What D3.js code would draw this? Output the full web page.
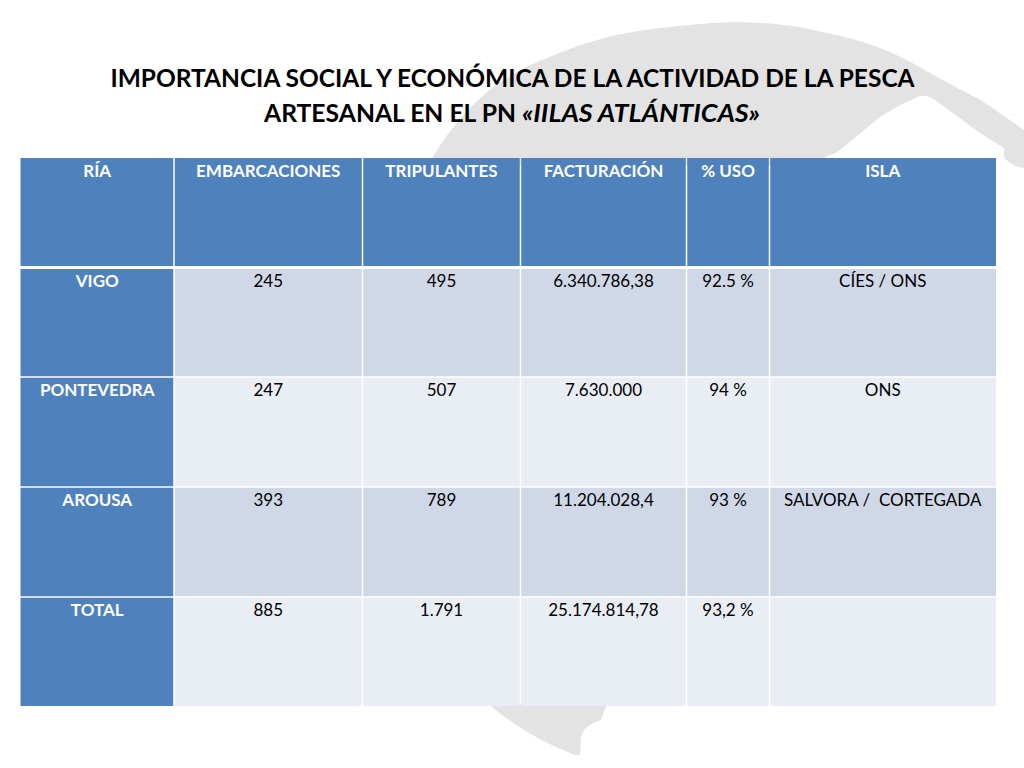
<!DOCTYPE html>
<html>
<head>
<meta charset="utf-8">
<title>Pesca artesanal</title>
<script src="https://cdn.jsdelivr.net/npm/d3@7"></script>
<style>
  html, body { margin: 0; padding: 0; background: #fff; }
  svg { display: block; }
  text { font-family: Lato, "Open Sans", sans-serif; }
</style>
</head>
<body>
<div id="chart"></div>
<script>
// table content
const columns = ['RÍA', 'EMBARCACIONES', 'TRIPULANTES', 'FACTURACIÓN', '% USO', 'ISLA'];
const rias = ['VIGO', 'PONTEVEDRA', 'AROUSA', 'TOTAL'];
const embarcaciones = ['245', '247', '393', '885'];
const tripulantes = ['495', '507', '789', '1.791'];
const facturacion = ['6.340.786,38', '7.630.000', '11.204.028,4', '25.174.814,78'];
const usos = ['92.5 %', '94 %', '93 %', '93,2 %'];
const islas = ['CÍES / ONS', 'ONS', 'SALVORA /  CORTEGADA', ''];

const width = 1024;
const height = 768;

// column and row edges are uneven, so both scales are piecewise over the edge index
const columnEdges = [20.5, 174, 362.5, 520.5, 686.5, 769.5, 996];
const rowEdges = [158, 267.5, 377, 487, 597, 706];
const x = d3.scaleLinear().domain(d3.range(columnEdges.length)).range(columnEdges);
const y = d3.scaleLinear().domain(d3.range(rowEdges.length)).range(rowEdges);

const svg = d3.select('#chart')
  .append('svg')
  .attr('width', width)
  .attr('height', height);

// grey swoosh behind the table
svg.append('path')
  .attr('fill', '#e3e3e3')
  .attr('d', 'M428,165 C450,127 475,100 500,82 C520,69 545,58 567,50 C590,41 610,36 633,32 C655,28 680,26 700,24 C720,22 745,22 763,23 C780,24 797,26 813,30 C837,35 860,40 880,48 C900,56 915,64 930,73 C950,84 965,92 981,100 L1024,130 L1024,168 C1018,167 1014,166 1011,163 C1007,161 1005,159 1004,157 L1004,148 L980,133 L935,100 C930,96 924,95 920,96 C906,102 892,109 880,117 L840,150 C835,154 831,155 827,156 L815,165 Z');
svg.append('path')
  .attr('fill', '#e3e3e3')
  .attr('d', 'M488,704 L607,704 L601,720 C590,724 583,728 581,737 L580,755 L575,755 C540,742 510,722 488,704 Z');

// title, second line has an italic part
const title = svg.append('g')
  .attr('font-weight', 700)
  .attr('font-size', 24.5)
  .attr('fill', '#000');
title.append('text')
  .attr('x', 512.5)
  .attr('y', 87)
  .attr('text-anchor', 'middle')
  .text('IMPORTANCIA SOCIAL Y ECONÓMICA DE LA ACTIVIDAD DE LA PESCA');
title.append('text')
  .attr('x', 264)
  .attr('y', 122)
  .attr('textLength', 252)
  .attr('lengthAdjust', 'spacingAndGlyphs')
  .text('ARTESANAL EN EL PN');
title.append('text')
  .attr('x', 522)
  .attr('y', 122)
  .attr('font-style', 'italic')
  .attr('textLength', 238)
  .attr('lengthAdjust', 'spacingAndGlyphs')
  .text('«IILAS ATLÁNTICAS»');

// build the rows from the named arrays
const rows = [columns].concat(rias.map((ria, i) =>
  [ria, embarcaciones[i], tripulantes[i], facturacion[i], usos[i], islas[i]]));

function cellFill(r, c) {
  if (r === 0 || c === 0) return '#4f81bd';
  return r % 2 === 1 ? '#d0d8e8' : '#e9edf4';
}

const cells = rows.flatMap((row, r) => row.map((value, c) => ({ value, r, c })));

const cell = svg.append('g')
  .selectAll('g')
  .data(cells)
  .join('g');

cell.append('rect')
  .attr('x', d => x(d.c) + (d.c > 0 ? 0.75 : 0))
  .attr('y', d => y(d.r) + (d.r === 1 ? 1.5 : d.r > 0 ? 0.75 : 0))
  .attr('width', d => x(d.c + 1) - x(d.c) - (d.c > 0 ? 0.75 : 0) - (d.c < 5 ? 0.75 : 0))
  .attr('height', d => y(d.r + 1) - y(d.r) - (d.r === 1 ? 1.5 : d.r > 0 ? 0.75 : 0) - (d.r === 0 ? 1.5 : d.r < 4 ? 0.75 : 0))
  .attr('fill', d => cellFill(d.r, d.c));

cell.append('text')
  .attr('x', d => (x(d.c) + x(d.c + 1)) / 2)
  .attr('y', d => y(d.r) + 19)
  .attr('text-anchor', 'middle')
  .attr('font-size', 17)
  .attr('font-weight', d => (d.r === 0 || d.c === 0) ? 700 : 400)
  .attr('fill', d => (d.r === 0 || d.c === 0) ? '#fff' : '#000')
  .style('white-space', 'pre')
  .text(d => d.value);
</script>
</body>
</html>
